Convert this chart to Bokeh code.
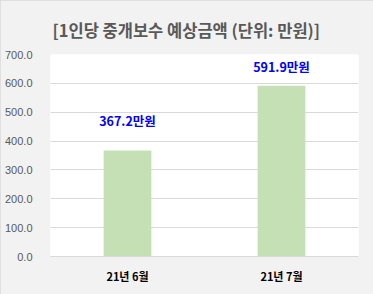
from bokeh.plotting import figure
from bokeh.models import ColumnDataSource, FixedTicker, NumeralTickFormatter, Range1d, FactorRange, LabelSet
from bokeh.core.properties import value
from bokeh.embed import file_html
from bokeh.resources import INLINE

categories = ["21년 6월", "21년 7월"]
amounts = [367.2, 591.9]
label_texts = ["367.2만원", "591.9만원"]
y_ticks = [0, 100, 200, 300, 400, 500, 600, 700]
title_text = "[1인당 중개보수 예상금액 (단위: 만원)]"

label_offsets = [21, 10]

src = ColumnDataSource(dict(cat=categories, amt=amounts, txt=label_texts, off=label_offsets))

p = figure(frame_width=308, frame_height=202, x_range=FactorRange(*categories, range_padding=0),
           y_range=Range1d(0, 700), output_backend="svg", toolbar_location=None,
           min_border_left=50, min_border_right=15, min_border_top=54, min_border_bottom=38)
p.background_fill_color = "white"
p.border_fill_color = "#f2f2f2"
p.outline_line_color = None

p.title.text = title_text
p.title.align = "left"
p.title.offset = 2
p.title.text_font = "Noto Sans CJK KR"
p.title.text_font_size = "16.5px"
p.title.text_font_style = "bold"
p.title.text_color = "#595959"
p.title.standoff = 26

p.vbar(x="cat", top="amt", width=0.31, source=src, color="#c5e0b4", line_color=None)

labels = LabelSet(x="cat", y="amt", text="txt", y_offset="off", source=src,
                  text_align="center", text_baseline="bottom",
                  text_color="#0000ff", text_font=value("Noto Sans CJK KR"),
                  text_font_size="12.5px", text_font_style="bold")
p.add_layout(labels)

p.yaxis.ticker = FixedTicker(ticks=y_ticks)
p.yaxis.formatter = NumeralTickFormatter(format="0.0")
p.yaxis.axis_line_color = None
p.yaxis.major_tick_line_color = None
p.yaxis.minor_tick_line_color = None
p.yaxis.major_label_text_color = "#595959"
p.yaxis.major_label_text_font = "Liberation Sans"
p.yaxis.major_label_text_font_size = "11px"
p.yaxis.major_label_standoff = 12

p.xaxis.axis_line_color = "#d9d9d9"
p.xaxis.major_tick_line_color = None
p.xaxis.minor_tick_line_color = None
p.xaxis.major_label_text_color = "black"
p.xaxis.major_label_text_font = "Noto Sans CJK KR"
p.xaxis.major_label_text_font_style = "bold"
p.xaxis.major_label_text_font_size = "11px"
p.xaxis.major_label_standoff = 5

p.xgrid.grid_line_color = None
p.ygrid.grid_line_color = "#d9d9d9"
p.ygrid.ticker = FixedTicker(ticks=y_ticks)

p.styles = {"outline": "1px solid #d9d9d9", "outline-offset": "-1px"}

open("out.html", "w").write(file_html(p, INLINE))
